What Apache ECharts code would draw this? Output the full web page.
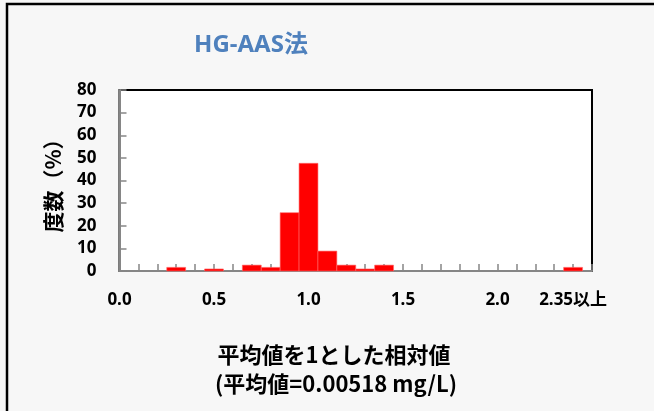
<!DOCTYPE html>
<html>
<head>
<meta charset="utf-8">
<script src="https://cdn.jsdelivr.net/npm/echarts@6/dist/echarts.min.js"></script>
<style>
html,body{margin:0;padding:0;}
#main{width:654px;height:411px;}
</style>
</head>
<body>
<div id="main"></div>
<script>
// 階級の中心値 (相対値) と度数 (%)
var binCenters = [0.3, 0.5, 0.7, 0.8, 0.9, 1.0, 1.1, 1.2, 1.3, 1.4, 2.4];
var freqPct = [1.6, 0.9, 2.6, 1.6, 25.8, 47.6, 8.8, 2.6, 0.9, 2.6, 1.6];
var binWidth = 0.1;
// x軸に表示する目盛ラベル
var xTickValues = [0, 0.5, 1.0, 1.5, 2.0, 2.4];
var xTickLabels = ['0.0', '0.5', '1.0', '1.5', '2.0', '2.35以上'];

var titleText = 'HG-AAS法';
var yName = '度数（%）';
var xNameLines = ['平均値を1とした相対値', '(平均値=0.00518 mg/L)'];

var FONT = '"Noto Sans", "Noto Sans CJK JP", sans-serif';
var JP = '"Noto Sans CJK JP", sans-serif';

var chart = echarts.init(document.getElementById('main'));

var seriesData = [];
for (var i = 0; i < binCenters.length; i++) {
	seriesData.push([binCenters[i], freqPct[i]]);
}

var option = {
	backgroundColor: '#f7f7f7',
	animation: false,
	grid: {
		left: 119.5,
		right: 62,
		top: 90,
		bottom: 140,
		show: true,
		backgroundColor: '#ffffff',
		borderColor: '#000000',
		borderWidth: 2
	},
	xAxis: {
		type: 'value',
		min: 0,
		max: 2.5,
		interval: 0.1,
		splitLine: {show: false},
		axisLine: {lineStyle: {color: '#868686', width: 2}},
		axisTick: {inside: true, length: 7, lineStyle: {color: '#868686', width: 1.5}},
		axisLabel: {
			margin: 21,
			color: '#000',
			fontWeight: 'bold',
			fontSize: 17,
			fontFamily: FONT,
			showMaxLabel: true,
			formatter: function (v) {
				for (var k = 0; k < xTickValues.length; k++) {
					if (Math.abs(v - xTickValues[k]) < 1e-6) return xTickLabels[k];
				}
				return '';
			}
		}
	},
	yAxis: {
		type: 'value',
		min: 0,
		max: 80,
		interval: 10,
		name: yName,
		nameLocation: 'middle',
		nameGap: 56,
		nameRotate: 90,
		nameTextStyle: {color: '#000', fontWeight: 'bold', fontSize: 21, fontFamily: JP},
		splitLine: {show: false},
		axisLine: {show: true, lineStyle: {color: '#868686', width: 2}},
		axisTick: {show: true, inside: true, length: 7, lineStyle: {color: '#868686', width: 1.5}},
		axisLabel: {
			margin: 23,
			color: '#000',
			fontWeight: 'bold',
			fontSize: 17,
			fontFamily: FONT
		}
	},
	series: [{
		type: 'custom',
		data: seriesData,
		renderItem: function (params, api) {
			var c = api.coord([api.value(0), api.value(1)]);
			var base = api.coord([api.value(0), 0]);
			var w = api.size([binWidth, 0])[0];
			return {
				type: 'rect',
				shape: {x: c[0] - w / 2, y: c[1], width: w, height: base[1] - c[1]},
				style: {fill: '#ff0000', stroke: '#ff6a6a', lineWidth: 0.6}
			};
		}
	}],
	graphic: [
		{
			type: 'rect',
			silent: true,
			shape: {x: 7, y: 4, width: 720, height: 520},
			style: {fill: null, stroke: '#000', lineWidth: 2.5}
		},
		{
			type: 'text',
			x: 251, y: 45,
			style: {
				text: titleText, fill: '#4f81bd', align: 'center', verticalAlign: 'middle',
				font: 'bold 24px ' + FONT
			}
		},
		{
			type: 'text',
			x: 334, y: 355,
			style: {
				text: xNameLines[0], fill: '#000', align: 'center', verticalAlign: 'middle',
				font: 'bold 22px ' + JP
			}
		},
		{
			type: 'text',
			x: 336, y: 384,
			style: {
				text: xNameLines[1], fill: '#000', align: 'center', verticalAlign: 'middle',
				font: 'bold 22px ' + JP
			}
		}
	]
};

chart.setOption(option);
</script>
</body>
</html>
